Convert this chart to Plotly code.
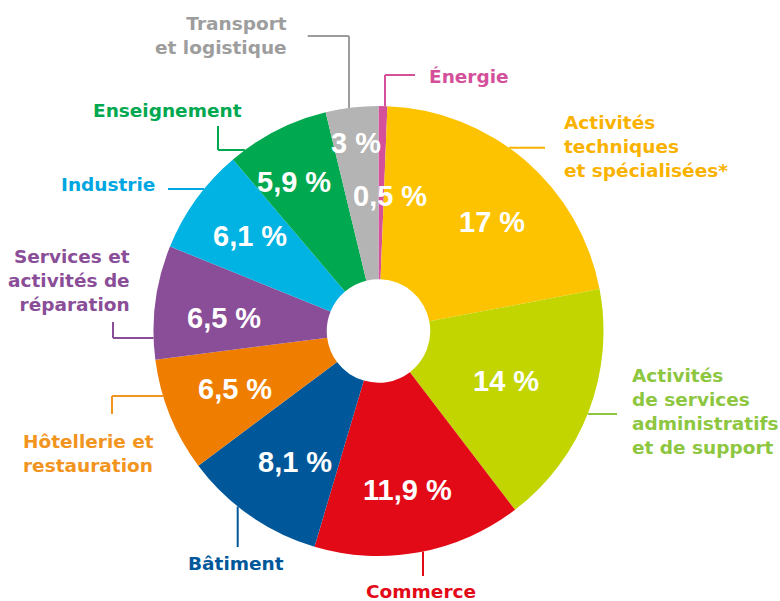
import math
import plotly.graph_objects as go

# ---------------- data ----------------
categories = [
    "Énergie",
    "Activités techniques et spécialisées*",
    "Activités de services administratifs et de support",
    "Commerce",
    "Bâtiment",
    "Hôtellerie et restauration",
    "Services et activités de réparation",
    "Industrie",
    "Enseignement",
    "Transport et logistique",
]
values = [0.5, 17, 14, 11.9, 8.1, 6.5, 6.5, 6.1, 5.9, 3]
value_labels = ["0,5 %", "17 %", "14 %", "11,9 %", "8,1 %", "6,5 %", "6,5 %", "6,1 %", "5,9 %", "3 %"]
label_lines = [
    ["Énergie"],
    ["Activités", "techniques", "et spécialisées*"],
    ["Activités", "de services", "administratifs", "et de support"],
    ["Commerce"],
    ["Bâtiment"],
    ["Hôtellerie et", "restauration"],
    ["Services et", "activités de", "réparation"],
    ["Industrie"],
    ["Enseignement"],
    ["Transport", "et logistique"],
]

# ---------------- styles ----------------
slice_colors = ["#D4509A", "#FDC300", "#C2D500", "#E30A17", "#00589B",
                "#EF7D00", "#8A4E98", "#00B3E3", "#00A84F", "#B4B4B4"]
label_colors = ["#D4509A", "#F9B200", "#8DC63F", "#E30A17", "#00589B",
                "#F29420", "#8A4E98", "#00A6E0", "#00A84F", "#9D9D9D"]

W, H = 780, 601
CX, CY, R = 378.5, 331.0, 225.0
HOLE = 0.23

# placement of the value text in each slice: radius (fraction of R) and
# angular nudge (degrees) relative to the slice's mid angle
value_radius = [0.60, 0.70, 0.61, 0.72, 0.69, 0.69, 0.69, 0.71, 0.76, 0.84]
value_nudge = [3.8, 5.4, 0.4, 0.0, -2.4, 0.0, -2.6, 0.6, -2.6, 0.0]

# outer label placement (pixels): anchor, alignment, leader path, edge mode
label_layout = [
    dict(pos=(427, 76), xa="left", path=[(415, 75), (385, 75)], edge=("v", "top")),
    dict(pos=(562, 146), xa="left", path=[(545, 147.7)], edge=("h", "right")),
    dict(pos=(630, 412), xa="left", path=[(617, 414)], edge=("h", "right")),
    dict(pos=(421, 591), xa="center", path=[(423, 576)], edge=("v", "bottom")),
    dict(pos=(236, 563), xa="center", path=[(237.7, 547)], edge=("v", "bottom")),
    dict(pos=(20.5, 453), xa="left", path=[(112, 414), (112, 396)], edge=("h", "left")),
    dict(pos=(131.5, 280), xa="right", path=[(113, 322), (113, 338)], edge=("h", "left")),
    dict(pos=(157, 185), xa="right", path=[(168, 189)], edge=("h", "left")),
    dict(pos=(244, 110), xa="right", path=[(218, 126), (218, 150)], edge=("h", "left")),
    dict(pos=(288.5, 36), xa="right", path=[(307.7, 36), (349, 36)], edge=("v", "top")),
]

OUTER_FONT = "DejaVu Sans"
INNER_FONT = "Liberation Sans, Arial, sans-serif"


def px2paper(x, y):
    return x / W, 1 - y / H


def edge_point(pt, mode):
    x, y = pt
    kind, side = mode
    if kind == "h":
        d = math.sqrt(max(R * R - (y - CY) ** 2, 0))
        return (CX + d if side == "right" else CX - d, y)
    d = math.sqrt(max(R * R - (x - CX) ** 2, 0))
    return (x, CY - d if side == "top" else CY + d)


fig = go.Figure()
fig.add_trace(go.Pie(
    labels=categories,
    values=values,
    sort=False,
    direction="clockwise",
    rotation=0,
    hole=HOLE,
    marker=dict(colors=slice_colors, line=dict(width=0)),
    textinfo="none",
    hoverinfo="label+value",
    showlegend=False,
    domain=dict(x=[(CX - R) / W, (CX + R) / W],
                y=[1 - (CY + R) / H, 1 - (CY - R) / H]),
))

annotations = []
shapes = []

# value texts inside slices, placed from each slice's mid angle
total = sum(values)
cum = 0.0
for v, txt, rf, nd in zip(values, value_labels, value_radius, value_nudge):
    mid = (cum + v / 2) / total * 2 * math.pi + math.radians(nd)
    cum += v
    x = CX + rf * R * math.sin(mid)
    y = CY - rf * R * math.cos(mid)
    xp, yp = px2paper(x, y)
    annotations.append(dict(
        x=xp, y=yp, xref="paper", yref="paper", text=f"<b>{txt}</b>",
        showarrow=False, xanchor="center", yanchor="middle",
        font=dict(family=INNER_FONT, size=29, color="white"),
    ))

# outer labels with leader lines
for lines, col, lay in zip(label_lines, label_colors, label_layout):
    xp, yp = px2paper(*lay["pos"])
    annotations.append(dict(
        x=xp, y=yp, xref="paper", yref="paper",
        text="<br>".join(f"<b>{l}</b>" for l in lines),
        showarrow=False, xanchor=lay["xa"], yanchor="middle", align=lay["xa"],
        font=dict(family=OUTER_FONT, size=18.5, color=col),
    ))
    pts = list(lay["path"]) + [edge_point(lay["path"][-1], lay["edge"])]
    for (x0, y0), (x1, y1) in zip(pts[:-1], pts[1:]):
        a0 = px2paper(x0, y0)
        a1 = px2paper(x1, y1)
        shapes.append(dict(type="line", xref="paper", yref="paper",
                           x0=a0[0], y0=a0[1], x1=a1[0], y1=a1[1],
                           line=dict(color=col, width=2), layer="below"))

fig.update_layout(
    width=W, height=H,
    margin=dict(l=0, r=0, t=0, b=0),
    paper_bgcolor="white",
    plot_bgcolor="white",
    annotations=annotations,
    shapes=shapes,
    showlegend=False,
)

fig.write_html(
    "out.html",
    config={"displayModeBar": False},
    post_script="document.body.style.margin='0px';document.body.style.overflow='hidden';",
)
